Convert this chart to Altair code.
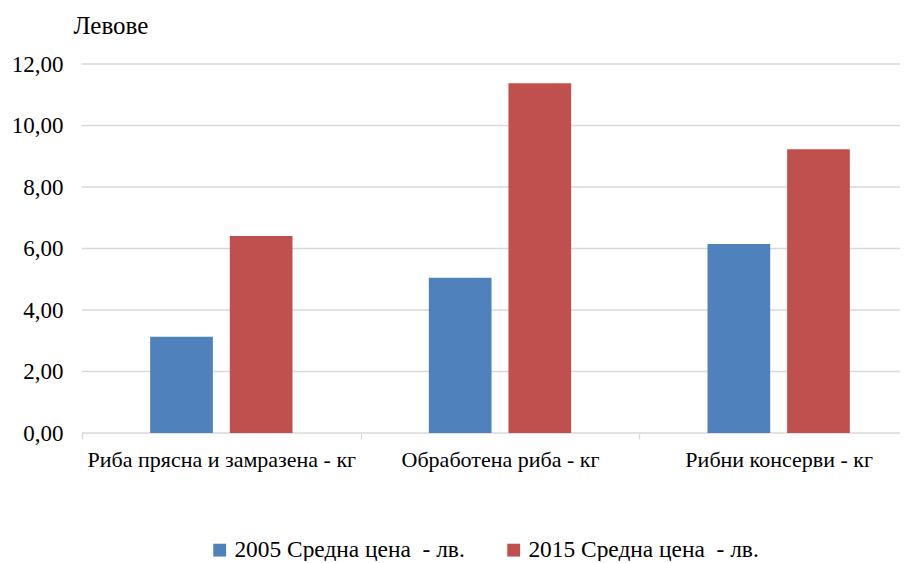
import altair as alt
import pandas as pd

categories = ["Риба прясна и замразена - кг", "Обработена риба - кг", "Рибни консерви - кг"]
series = ["2005 Средна цена  - лв.", "2015 Средна цена  - лв."]
v2005 = [3.13, 5.05, 6.15]
v2015 = [6.41, 11.37, 9.23]
y_ticks = [0, 2, 4, 6, 8, 10, 12]
colors = ["#4F81BD", "#C0504D"]

rows = []
for c, a, b in zip(categories, v2005, v2015):
    rows.append({"cat": c, "series": series[0], "value": a})
    rows.append({"cat": c, "series": series[1], "value": b})
df = pd.DataFrame(rows)
grid_df = pd.DataFrame({"v": y_ticks})

FONT = "Liberation Serif, Times New Roman, serif"
W = 818
H = 369
BAND_RANGE = 836
half = BAND_RANGE / 3 / 2

yscale = alt.Scale(domain=[0, 12], nice=False)

grid = alt.Chart(grid_df).mark_rule(color="#d9d9d9", strokeWidth=1.3).encode(
    y=alt.Y("v:Q", scale=yscale),
    x=alt.value(0),
    x2=alt.value(W),
)

bars = alt.Chart(df).mark_bar().encode(
    x=alt.X("cat:N", sort=categories, title=None,
            scale=alt.Scale(range=[0, BAND_RANGE], paddingInner=0, paddingOuter=0),
            axis=alt.Axis(labelAngle=0, labelFont=FONT, labelFontSize=22, labelColor="#000000",
                          labelLimit=500,
                          domain=False, grid=False, ticks=True, tickColor="#d9d9d9",
                          tickWidth=1.3, tickSize=6, tickOffset=-half, labelOffset=half,
                          labelPadding=10)),
    xOffset=alt.XOffset("series:N", sort=series,
                        scale=alt.Scale(paddingInner=0.2125, paddingOuter=0.856)),
    y=alt.Y("value:Q", title="Левове", scale=yscale,
            axis=alt.Axis(values=y_ticks, labelExpr="replace(format(datum.value, '.2f'), '.', ',')",
                          labelFont=FONT, labelFontSize=23, labelColor="#000000",
                          labelPadding=19, domain=False, ticks=False, grid=False,
                          titleAngle=0, titleAlign="left", titleBaseline="alphabetic",
                          titleX=-9, titleY=-31, titleFont=FONT, titleFontSize=25,
                          titleFontWeight="normal", titleColor="#000000")),
    color=alt.Color("series:N", sort=series,
                    scale=alt.Scale(domain=series, range=colors),
                    legend=alt.Legend(title=None, orient="none", legendX=126, legendY=474,
                                      direction="horizontal", symbolType="square",
                                      symbolSize=165, symbolStrokeWidth=0,
                                      labelFont=FONT, labelFontSize=23.4, labelColor="#000000",
                                      labelLimit=600,
                                      labelExpr="replace(datum.label, '  ', '\u00a0 ')",
                                      columnPadding=37, labelOffset=3, padding=0)),
)

chart = alt.layer(grid, bars).properties(
    width=W, height=H,
    autosize=alt.AutoSizeParams(type="none"),
    padding={"left": 74, "top": 56, "right": 0, "bottom": 128},
).configure(font=FONT).configure_view(stroke=None)

chart.save("out.html", embed_options={"renderer": "svg", "actions": False})
